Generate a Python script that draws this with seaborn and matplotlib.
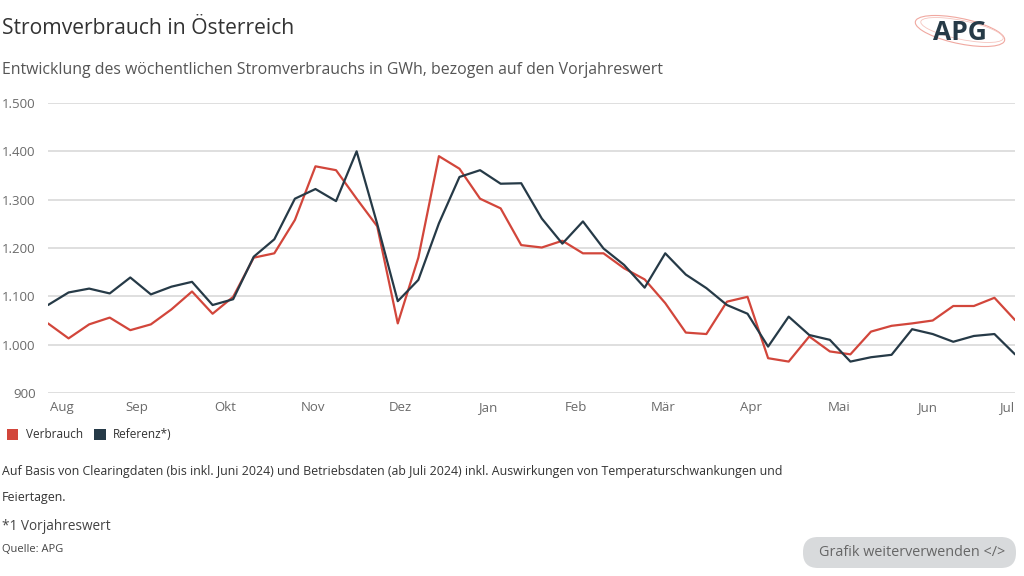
import numpy as np
import pandas as pd
import matplotlib
matplotlib.use("Agg")
import matplotlib.pyplot as plt
from matplotlib.patches import FancyBboxPatch, Ellipse, Patch
from matplotlib.transforms import IdentityTransform
import seaborn as sns

# ---- data (weekly values in GWh) ----
verbrauch = [1044, 1013, 1042, 1056, 1030, 1042, 1073, 1110, 1064, 1099,
             1180, 1189, 1258, 1369, 1361, 1302, 1245, 1044, 1180, 1390,
             1364, 1302, 1282, 1206, 1201, 1215, 1189, 1189, 1158, 1135,
             1086, 1025, 1022, 1089, 1099, 972, 965, 1017, 986, 980,
             1027, 1039, 1044, 1050, 1080, 1080, 1097, 1051]
referenz = [1082, 1108, 1116, 1106, 1139, 1104, 1120, 1130, 1082, 1094,
            1182, 1218, 1302, 1322, 1297, 1400, 1250, 1090, 1134, 1251,
            1347, 1361, 1333, 1334, 1261, 1209, 1255, 1199, 1165, 1118,
            1189, 1145, 1117, 1082, 1064, 996, 1058, 1020, 1010, 965,
            974, 979, 1032, 1022, 1006, 1018, 1022, 980]
months = ["Aug", "Sep", "Okt", "Nov", "Dez", "Jan", "Feb", "Mär", "Apr", "Mai", "Jun", "Jul"]
yticks = [900, 1000, 1100, 1200, 1300, 1400, 1500]
ytick_labels = ["900", "1.000", "1.100", "1.200", "1.300", "1.400", "1.500"]
series_names = ["Verbrauch", "Referenz*)"]

RED = "#d2463b"
DARK = "#263a47"

week = np.arange(len(verbrauch))
df = pd.DataFrame({
    "week": np.concatenate([week, week]),
    "value": verbrauch + referenz,
    "series": [series_names[0]] * len(verbrauch) + [series_names[1]] * len(referenz),
})

sns.set_theme(style="white")
plt.rcParams["font.family"] = ["Open Sans", "DejaVu Sans"]

fig = plt.figure(figsize=(10.24, 5.76), dpi=100)
W, H = 1024, 576
ax = fig.add_axes([48 / W, 1 - 393 / H, (1015 - 48) / W, (393 - 103) / H])

sns.lineplot(data=df, x="week", y="value", hue="series",
             palette={series_names[0]: RED, series_names[1]: DARK},
             linewidth=1.6, ax=ax, legend=False, sort=False)
for ln in ax.get_lines():
    ln.set_solid_joinstyle("round")
    ln.set_solid_capstyle("round")

ax.set_xlim(0, len(verbrauch) - 1)
ax.set_ylim(900, 1500)
ax.set_yticks(yticks)
ax.set_yticklabels(ytick_labels)
for y in yticks:
    ax.axhline(y, color="#d6d6d6", lw=1.1, zorder=0)
ax.grid(False)
for s in ax.spines.values():
    s.set_visible(False)

# month ticks (evenly spaced as in the reference)
xpix = [49.6 + 87.7 * i for i in range(len(months))]
xpos = [(p - 48) / (1015 - 48) * (len(verbrauch) - 1) for p in xpix]
ax.set_xticks(xpos)
ax.set_xticklabels(months)
ax.tick_params(axis="x", length=0, pad=6, labelsize=9.5, colors="#6a6a6a")
ax.tick_params(axis="y", length=0, pad=9, labelsize=9.5, colors="#6a6a6a")
xt = ax.get_xticklabels()
xt[0].set_ha("left")
xt[-1].set_ha("right")
ax.set_xlabel("")
ax.set_ylabel("")

# titles
fig.text(2 / W, 1 - 28 / H, "Stromverbrauch in Österreich", fontsize=15.2,
         color="#333333", va="center", ha="left")
fig.text(2 / W, 1 - 70 / H,
         "Entwicklung des wöchentlichen Stromverbrauchs in GWh, bezogen auf den Vorjahreswert",
         fontsize=11.4, color="#555555", va="center", ha="left")

# logo
fig.patches.append(Ellipse((960 / W, 1 - 31 / H), 96 / W, 24 / H, angle=-24,
                           transform=fig.transFigure, fill=False,
                           edgecolor="#f0a8a0", lw=0.8))
fig.patches.append(Ellipse((962 / W, 1 - 30 / H), 88 / W, 18 / H, angle=-22,
                           transform=fig.transFigure, fill=False,
                           edgecolor="#f5c4be", lw=0.6))
fig.text(960 / W, 1 - 33 / H, "APG", fontsize=19, fontweight="bold",
         color=DARK, ha="center", va="center")

# legend
leg_handles = [Patch(facecolor=RED, edgecolor="none"),
               Patch(facecolor=DARK, edgecolor="none")]
fig.legend(leg_handles, series_names, loc="center left",
           bbox_to_anchor=(-4 / W, 1 - 435 / H), ncol=2, frameon=False,
           fontsize=8.5, handlelength=1.0, handleheight=1.0,
           handletextpad=0.6, columnspacing=1.0, labelcolor="#333333")

# footnotes
fig.text(2 / W, 1 - 472 / H,
         "Auf Basis von Clearingdaten (bis inkl. Juni 2024) und Betriebsdaten (ab Juli 2024) inkl. Auswirkungen von Temperaturschwankungen und",
         fontsize=8.9, color="#333333", va="center", ha="left")
fig.text(2 / W, 1 - 498 / H, "Feiertagen.", fontsize=8.9, color="#333333",
         va="center", ha="left")
fig.text(2 / W, 1 - 527 / H, "*1 Vorjahreswert", fontsize=9.8, color="#444444",
         va="center", ha="left")
fig.text(2 / W, 1 - 550 / H, "Quelle: APG", fontsize=8, color="#444444",
         va="center", ha="left")

# button
fig.patches.append(FancyBboxPatch((803, H - 568), 213, 31,
                                  boxstyle="round,pad=0,rounding_size=15",
                                  transform=IdentityTransform(),
                                  facecolor="#d8dadc", edgecolor="none"))
fig.text(912 / W, 1 - 552 / H, "Grafik weiterverwenden </>", fontsize=10.4,
         color="#666666", va="center", ha="center")

fig.savefig("out.png", dpi=100, facecolor="white")
